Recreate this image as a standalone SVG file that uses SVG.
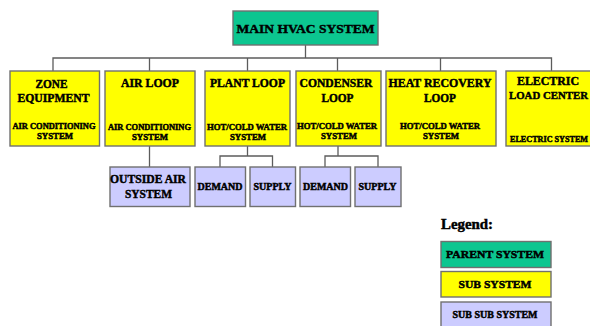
<svg xmlns="http://www.w3.org/2000/svg" width="590" height="326" viewBox="0 0 590 326">
<style>
text{font-family:"Liberation Serif","Times New Roman",serif;font-weight:bold;fill:#000;stroke:#000;stroke-width:.45;text-anchor:middle}
.b{stroke:#707070;stroke-width:1.4}
.p{fill:#0cc690}.s{fill:#ffff00}.u{fill:#ccccff}
.h{font-size:12px}.m{font-size:13.5px}.t{font-size:8px}.d{font-size:9.5px}
#connectors path{fill:none;stroke:#5c5c5c;stroke-width:1.3}
</style>
<rect width="590" height="326" fill="#fff"/>
<g id="connectors">
<path d="M305.500 45V58M53 71V58H551.500V71M149.500 58V71M247.500 58V71M337.500 58V71M440.500 58V71"/>
<path d="M149.500 146V167"/>
<path d="M247.500 146V156M220 167V156H272.500V167"/>
<path d="M338 146V156M325 167V156H378V167"/>
</g>
<g id="main"><rect class="b p" x="233" y="11" width="145" height="34"/><text class="m" x="305.500" y="33" textLength="138" lengthAdjust="spacingAndGlyphs">MAIN HVAC SYSTEM</text></g>
<g id="zone"><rect class="b s" x="10" y="71" width="89.500" height="75"/><text class="h" x="51.500" y="88" textLength="32" lengthAdjust="spacingAndGlyphs">ZONE</text><text class="h" x="53.500" y="102" textLength="72" lengthAdjust="spacingAndGlyphs">EQUIPMENT</text><text class="t" x="54" y="129" textLength="83" lengthAdjust="spacingAndGlyphs">AIR CONDITIONING</text><text class="t" x="55" y="139" textLength="36" lengthAdjust="spacingAndGlyphs">SYSTEM</text></g>
<g id="air"><rect class="b s" x="105" y="71" width="90" height="75"/><text class="h" x="150" y="87" textLength="58" lengthAdjust="spacingAndGlyphs">AIR LOOP</text><text class="t" x="149.500" y="130" textLength="83" lengthAdjust="spacingAndGlyphs">AIR CONDITIONING</text><text class="t" x="150" y="140" textLength="36" lengthAdjust="spacingAndGlyphs">SYSTEM</text></g>
<g id="plant"><rect class="b s" x="205" y="71" width="85" height="75"/><text class="h" x="247.500" y="87" textLength="75" lengthAdjust="spacingAndGlyphs">PLANT LOOP</text><text class="t" x="247" y="130" textLength="80" lengthAdjust="spacingAndGlyphs">HOT/COLD WATER</text><text class="t" x="248" y="140" textLength="36" lengthAdjust="spacingAndGlyphs">SYSTEM</text></g>
<g id="condenser"><rect class="b s" x="296" y="71" width="85" height="75"/><text class="h" x="336" y="87" textLength="73" lengthAdjust="spacingAndGlyphs">CONDENSER</text><text class="h" x="337.500" y="102" textLength="32" lengthAdjust="spacingAndGlyphs">LOOP</text><text class="t" x="337" y="129" textLength="80" lengthAdjust="spacingAndGlyphs">HOT/COLD WATER</text><text class="t" x="339" y="139" textLength="36" lengthAdjust="spacingAndGlyphs">SYSTEM</text></g>
<g id="heat-recovery"><rect class="b s" x="386" y="71" width="110" height="75"/><text class="h" x="440" y="87" textLength="103" lengthAdjust="spacingAndGlyphs">HEAT RECOVERY</text><text class="h" x="440" y="102" textLength="32" lengthAdjust="spacingAndGlyphs">LOOP</text><text class="t" x="440" y="129" textLength="80" lengthAdjust="spacingAndGlyphs">HOT/COLD WATER</text><text class="t" x="441" y="139" textLength="36" lengthAdjust="spacingAndGlyphs">SYSTEM</text></g>
<g id="electric"><rect class="b s" x="506" y="71" width="90" height="75"/><text class="h" x="548" y="85" textLength="62" lengthAdjust="spacingAndGlyphs">ELECTRIC</text><text x="548.500" y="99" style="font-size:11px" textLength="79" lengthAdjust="spacingAndGlyphs">LOAD CENTER</text><text class="t" x="549" y="142" textLength="78" lengthAdjust="spacingAndGlyphs">ELECTRIC SYSTEM</text></g>
<g id="outside-air"><rect class="b u" x="110" y="167" width="80" height="39.500"/><text class="h" x="148" y="183" textLength="76" lengthAdjust="spacingAndGlyphs">OUTSIDE AIR</text><text class="h" x="148.500" y="197.500" textLength="47" lengthAdjust="spacingAndGlyphs">SYSTEM</text></g>
<g id="plant-demand"><rect class="b u" x="195" y="167" width="50.500" height="39.500"/><text class="d" x="220" y="189.500" textLength="45" lengthAdjust="spacingAndGlyphs">DEMAND</text></g>
<g id="plant-supply"><rect class="b u" x="250" y="167" width="45.500" height="39.500"/><text class="d" x="272.500" y="189.500" textLength="38" lengthAdjust="spacingAndGlyphs">SUPPLY</text></g>
<g id="condenser-demand"><rect class="b u" x="300" y="167" width="50.500" height="39.500"/><text class="d" x="325.500" y="189.500" textLength="45" lengthAdjust="spacingAndGlyphs">DEMAND</text></g>
<g id="condenser-supply"><rect class="b u" x="355" y="167" width="46" height="39.500"/><text class="d" x="377.500" y="189.500" textLength="38" lengthAdjust="spacingAndGlyphs">SUPPLY</text></g>
<text x="467" y="229" font-size="14" textLength="52" lengthAdjust="spacingAndGlyphs">Legend:</text>
<g id="legend-parent"><rect class="b p" x="441" y="241.500" width="110" height="26"/><text class="d" x="495" y="258" style="font-size:10.500px" textLength="98" lengthAdjust="spacingAndGlyphs">PARENT SYSTEM</text></g>
<g id="legend-sub"><rect class="b s" x="441" y="271.500" width="110" height="25.500"/><text class="d" x="495" y="288" style="font-size:10.500px" textLength="73" lengthAdjust="spacingAndGlyphs">SUB SYSTEM</text></g>
<g id="legend-subsub"><rect class="b u" x="441" y="302" width="110" height="30"/><text class="d" x="495" y="317.500" textLength="85" lengthAdjust="spacingAndGlyphs">SUB SUB SYSTEM</text></g>
</svg>
